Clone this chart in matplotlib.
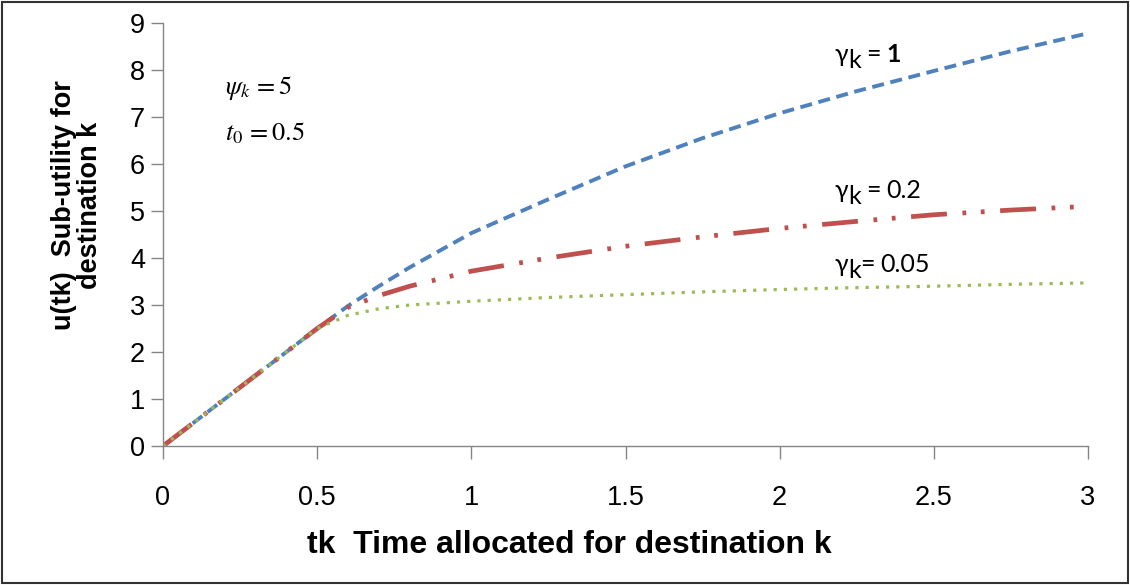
import matplotlib
matplotlib.use("Agg")
import matplotlib.pyplot as plt
from matplotlib.patches import Rectangle

# values
t_points = [0, 0.5, 0.6, 0.7, 0.8, 1.0, 1.25, 1.5, 1.75, 2.0, 2.25, 2.5, 2.75, 3.0]
u_gamma_1 = [0, 2.5, 2.98, 3.4, 3.8, 4.53, 5.25, 5.95, 6.55, 7.08, 7.55, 7.98, 8.4, 8.78]
u_gamma_02 = [0, 2.5, 2.95, 3.2, 3.4, 3.72, 4.0, 4.25, 4.45, 4.63, 4.78, 4.92, 5.02, 5.1]
u_gamma_005 = [0, 2.5, 2.78, 2.92, 3.0, 3.08, 3.16, 3.22, 3.28, 3.33, 3.37, 3.4, 3.44, 3.47]

x_ticks = [0, 0.5, 1, 1.5, 2, 2.5, 3]
x_tick_labels = ["0", "0.5", "1", "1.5", "2", "2.5", "3"]
y_ticks = list(range(10))

W, H = 1130, 585

plt.rcParams['font.family'] = ['Liberation Sans', 'DejaVu Sans']
plt.rcParams['mathtext.fontset'] = 'stix'

fig = plt.figure(figsize=(W / 100, H / 100), dpi=100)
ax = fig.add_axes([163 / W, 1 - 446 / H, (1088 - 163) / W, (446 - 23) / H])

ax.plot(t_points, u_gamma_1, color="#4F81BD", lw=2.8, dashes=(3.1, 1.7),
        dash_capstyle="butt")
ax.plot(t_points, u_gamma_02, color="#C0504D", lw=3.4,
        dashes=(7.6, 3.3, 0.8, 3.1, 0.8, 3.3), dash_capstyle="butt")
ax.plot(t_points, u_gamma_005, color="#9BBB59", lw=2.3, dashes=(1, 2.2),
        dash_capstyle="butt")

ax.set_xlim(0, 3)
ax.set_ylim(0, 9)
ax.set_xticks(x_ticks)
ax.set_xticklabels(x_tick_labels)
ax.set_yticks(y_ticks)
ax.tick_params(labelsize=19.5)
ax.tick_params(direction="out", length=9, width=1, color="#868686")
ax.tick_params(axis="y", pad=4)
ax.tick_params(axis="x", pad=19)

for side in ["top", "right"]:
    ax.spines[side].set_visible(False)
for side in ["left", "bottom"]:
    ax.spines[side].set_color("#868686")
    ax.spines[side].set_linewidth(1)

ax.set_xlabel("tk  Time allocated for destination k", fontsize=23,
              fontweight="bold")
ax.xaxis.set_label_coords((569 - 163) / 925, -(545 - 446) / 423)
ax.xaxis.label.set_va("center")
ax.set_ylabel("u(tk)  Sub-utility for\ndestination k", fontsize=19.5,
              fontweight="bold", linespacing=1.0)
ax.yaxis.set_label_coords(-(163 - 77) / 925, (446 - 205) / 423)
ax.yaxis.label.set_va("center")

fig.text(0.199, 0.850, r"$\psi_k\,=5$", fontsize=19, va="center", ha="left")
fig.text(0.199, 0.773, r"$t_0\,=0.5$", fontsize=19, va="center", ha="left")


def gamma_label(x_eq, y_base, rest, bold=False):
    # gamma with a near full size, lowered k, then the "= value" part
    gfam = ['Lato', 'DejaVu Sans']
    fs = 18
    fig.text(835 / W, 1 - y_base / H, "γ", fontsize=fs, family=gfam,
             va="baseline", ha="left")
    fig.text(848 / W, 1 - (y_base + 6) / H, "k", fontsize=fs, family=gfam,
             va="baseline", ha="left")
    fig.text(x_eq / W, 1 - y_base / H, "=", fontsize=fs, family=gfam,
             va="baseline", ha="left")
    fig.text((x_eq + 20) / W, 1 - y_base / H, rest, fontsize=fs, family=gfam,
             va="baseline", ha="left", fontweight="bold" if bold else "normal")


gamma_label(866, 62, "1", bold=True)
gamma_label(866, 198, "0.2")
gamma_label(860, 272, "0.05")

fig.patches.append(Rectangle((0.002, 0.003), 0.996, 0.994, transform=fig.transFigure,
                             fill=False, edgecolor="#333333", lw=1.5))

fig.savefig("out.png", dpi=100)
